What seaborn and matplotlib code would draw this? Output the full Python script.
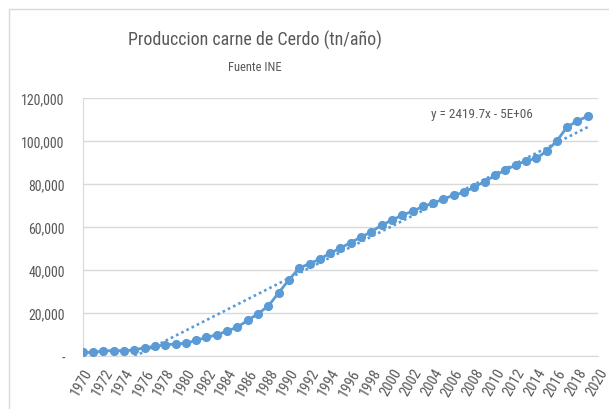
import numpy as np
import pandas as pd
import matplotlib
matplotlib.use("Agg")
import matplotlib.pyplot as plt
from matplotlib import font_manager
from matplotlib.patches import Rectangle
import seaborn as sns

# Production values (tn / year)
years = list(range(1970, 2020))
produccion = [1700, 1700, 2500, 2500, 2500, 2900, 3900, 4500, 5300, 5600,
              6000, 7300, 8700, 9900, 11600, 13500, 16600, 19700, 23300, 29400,
              35500, 40900, 43000, 45100, 47900, 50200, 52800, 55300, 57800, 60900,
              63200, 65600, 67300, 69600, 71100, 73000, 74900, 76100, 78700, 81100,
              84000, 86500, 88800, 90800, 91900, 95300, 100000, 106600, 109300, 111600]
x_ticks = list(range(1970, 2021, 2))
y_ticks = [0, 20000, 40000, 60000, 80000, 100000, 120000]

df = pd.DataFrame({"anio": years, "produccion": produccion})

sns.set_style("white")
plt.rcParams['font.family'] = ['Lato', 'DejaVu Sans']

# a narrow font looks closer to the original Calibri; pick one if present
files = sorted(font_manager.findSystemFonts())
narrow = None
for key in ["robotocondensed-regular", "liberationsansnarrow-regular", "dejavusanscondensed.ttf"]:
    for f in files:
        if key in f.lower().replace(" ", "").replace("_", "-"):
            narrow = f
            break
    if narrow:
        break


def fp(size):
    if narrow:
        return font_manager.FontProperties(fname=narrow, size=size)
    return font_manager.FontProperties(family=["Lato", "DejaVu Sans"], size=size)


blue = "#5B9BD5"
grey = "#595959"

fig = plt.figure(figsize=(6.09, 4.10), dpi=100)
ax = fig.add_axes([0.136, 0.129, 0.846, 0.6295])

# chart frame
fig.patches.append(Rectangle((0.0148, -0.05), 1.1, 1.0256, transform=fig.transFigure,
                             fill=False, edgecolor="#D9D9D9", lw=1.0))

for yt in y_ticks:
    ax.axhline(yt, color="#D9D9D9", lw=1.0, zorder=0)

sns.lineplot(data=df, x="anio", y="produccion", marker="o", color=blue,
             lw=2.0, markersize=6.6, markeredgewidth=0, ax=ax, zorder=3)
sns.regplot(data=df, x="anio", y="produccion", scatter=False, ci=None, truncate=True,
            color=blue, line_kws=dict(ls=(0, (1, 1.2)), lw=1.9), ax=ax)

ax.set_xlim(1970, 2020)
ax.set_ylim(0, 120000)
ax.set_xticks(x_ticks)
ax.set_xticklabels([str(t) for t in x_ticks], rotation=60, ha="right",
                   rotation_mode="anchor", fontproperties=fp(10.5), color=grey)
ax.set_yticks(y_ticks)
ax.set_yticklabels(["-" if v == 0 else f"{v:,.0f}" for v in y_ticks],
                   fontproperties=fp(10), color=grey)
ax.tick_params(axis="y", length=0, pad=13)
ax.tick_params(axis="x", length=0, pad=7)
ax.set_xlabel("")
ax.set_ylabel("")

for side in ["top", "right"]:
    ax.spines[side].set_visible(False)
ax.spines["left"].set_color("#D9D9D9")
ax.spines["bottom"].set_color("#D9D9D9")

ax.text(0.775, 0.94, "y = 2419.7x - 5E+06", transform=ax.transAxes,
        ha="center", va="center", fontproperties=fp(9.5), color=grey)

fig.text(0.419, 0.902, "Produccion carne de Cerdo (tn/año)", ha="center", va="center",
         fontproperties=fp(13), color=grey)
fig.text(0.419, 0.836, "Fuente INE", ha="center", va="center", fontproperties=fp(9), color=grey)

fig.savefig("out.png", dpi=100)
